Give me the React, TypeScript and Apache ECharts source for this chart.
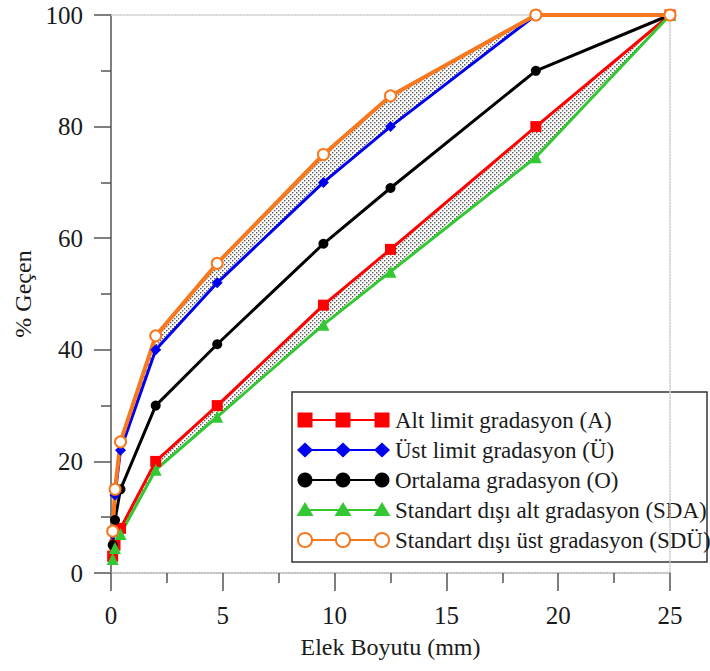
import React, { useEffect, useRef } from "react";
import * as echarts from "echarts";

const sieveSizes = [0.075, 0.18, 0.425, 2, 4.75, 9.5, 12.5, 19, 25];
const altLimit = [3, 5, 8, 20, 30, 48, 58, 80, 100];
const ustLimit = [7, 14, 22, 40, 52, 70, 80, 100, 100];
const ortalama = [5, 9.5, 15, 30, 41, 59, 69, 90, 100];
const sdAlt = [2.5, 4.5, 7, 18.5, 28, 44.5, 54, 74.5, 100];
const sdUst = [7.5, 15, 23.5, 42.5, 55.5, 75, 85.5, 100, 100];

const names = [
  "Alt limit gradasyon (A)",
  "Üst limit gradasyon (Ü)",
  "Ortalama gradasyon (O)",
  "Standart dışı alt gradasyon (SDA)",
  "Standart dışı üst gradasyon (SDÜ)",
];
const xTicks = [0, 5, 10, 15, 20, 25];
const yTicks = [0, 20, 40, 60, 80, 100];

const RED = "#ff0000";
const BLUE = "#0000ee";
const BLACK = "#000000";
const GREEN = "#33c833";
const ORANGE = "#f7781e";
const FONT = '"Liberation Serif", "Times New Roman", serif';
const TEXT = "#1a1a1a";

function makeDots(): any {
  const c = document.createElement("canvas");
  c.width = 4;
  c.height = 4;
  const ctx = c.getContext("2d")!;
  ctx.fillStyle = "#ffffff";
  ctx.fillRect(0, 0, 4, 4);
  ctx.fillStyle = "#5a5a5a";
  ctx.fillRect(0, 0, 1.4, 1.4);
  ctx.fillRect(2, 2, 1.4, 1.4);
  return { image: c, repeat: "repeat" };
}

function pairs(ys: number[]) {
  return sieveSizes.map((x, i) => [x, ys[i]]);
}

function band(upper: number[], lower: number[], fill: any) {
  return {
    type: "custom",
    coordinateSystem: "cartesian2d",
    silent: true,
    z: 1,
    data: [[0, 0]],
    encode: { x: 0, y: 1 },
    renderItem: (_p: any, api: any) => {
      const top = sieveSizes.map((x, i) => api.coord([x, upper[i]]));
      const bot = sieveSizes.map((x, i) => api.coord([x, lower[i]])).reverse();
      return {
        type: "polygon",
        shape: { points: top.concat(bot) },
        style: { fill, stroke: "none" },
      };
    },
  };
}

function legendGraphic() {
  const x0 = 292;
  const y0 = 392;
  const children: any[] = [
    {
      type: "rect",
      shape: { x: x0, y: y0, width: 415, height: 170 },
      style: { fill: "#ffffff", stroke: "#333", lineWidth: 1.5 },
    },
  ];
  const colors = [RED, BLUE, BLACK, GREEN, ORANGE];
  const xs = [305, 343, 382];
  colors.forEach((col, k) => {
    const cy = 420 + k * 30;
    children.push({
      type: "line",
      shape: { x1: 305, y1: cy, x2: 382, y2: cy },
      style: { stroke: col, lineWidth: 2 },
    });
    xs.forEach((cx) => {
      if (k === 0) {
        children.push({ type: "rect", shape: { x: cx - 7.5, y: cy - 7.5, width: 15, height: 15 }, style: { fill: col } });
      } else if (k === 1) {
        children.push({
          type: "polygon",
          shape: { points: [[cx, cy - 7.5], [cx + 8, cy], [cx, cy + 7.5], [cx - 8, cy]] },
          style: { fill: col },
        });
      } else if (k === 2) {
        children.push({ type: "circle", shape: { cx, cy, r: 7.5 }, style: { fill: col } });
      } else if (k === 3) {
        children.push({
          type: "polygon",
          shape: { points: [[cx, cy - 8], [cx + 8.5, cy + 6], [cx - 8.5, cy + 6]] },
          style: { fill: col },
        });
      } else {
        children.push({ type: "circle", shape: { cx, cy, r: 7 }, style: { fill: "#ffffff", stroke: col, lineWidth: 2 } });
      }
    });
    children.push({
      type: "text",
      x: 395,
      y: cy,
      style: { text: names[k], font: `23px ${FONT}`, fill: TEXT, verticalAlign: "middle", align: "left" },
    });
  });
  return [{ type: "group", z: 100, children }];
}

export default function App() {
  const ref = useRef<HTMLDivElement>(null);
  useEffect(() => {
    document.body.style.margin = "0";
    const chart = echarts.init(ref.current!, null, { renderer: "svg" });
    const dots = makeDots();
    const axisLabel = { fontFamily: FONT, fontSize: 25, color: TEXT };
    const lineSeries = (name: string, ys: number[], color: string, symbol: string, size: number, width: number, extra: any = {}) => ({
      type: "line",
      name,
      data: pairs(ys),
      symbol,
      symbolSize: size,
      z: 3,
      lineStyle: { color, width },
      itemStyle: { color },
      ...extra,
    });
    chart.setOption({
      animation: false,
      backgroundColor: "#ffffff",
      grid: { left: 111, right: 40, top: 15, bottom: 98 },
      xAxis: [
        {
          type: "value",
          min: 0,
          max: 25,
          interval: 5,
          position: "bottom",
          name: "Elek Boyutu (mm)",
          nameLocation: "middle",
          nameGap: 62,
          nameTextStyle: { fontFamily: FONT, fontSize: 24, color: TEXT },
          axisLine: { onZero: false, lineStyle: { color: "#aaa", width: 1.5, type: "dotted" } },
          axisTick: { show: true, length: 18, lineStyle: { color: "#555", width: 1.5 } },
          minorTick: { show: true, splitNumber: 2, length: 10, lineStyle: { color: "#555", width: 1.5 } },
          axisLabel: { ...axisLabel, margin: 30, customValues: xTicks },
          splitLine: { show: false },
        },
        {
          type: "value",
          min: 0,
          max: 25,
          position: "top",
          axisLine: { onZero: false, lineStyle: { color: "#ccc", width: 1.5, type: "dotted" } },
          axisTick: { show: false },
          axisLabel: { show: false },
          splitLine: { show: false },
        },
      ],
      yAxis: [
        {
          type: "value",
          min: 0,
          max: 100,
          interval: 20,
          position: "left",
          name: "% Geçen",
          nameLocation: "middle",
          nameGap: 70,
          nameTextStyle: { fontFamily: FONT, fontSize: 24, color: TEXT },
          axisLine: { show: true, onZero: false, lineStyle: { color: "#555", width: 1.5 } },
          axisTick: { show: true, length: 17, lineStyle: { color: "#555", width: 1.5 } },
          minorTick: { show: true, splitNumber: 2, length: 10, lineStyle: { color: "#555", width: 1.5 } },
          axisLabel: { ...axisLabel, margin: 28, customValues: yTicks },
          splitLine: { show: false },
        },
        {
          type: "value",
          min: 0,
          max: 100,
          position: "right",
          axisLine: { show: true, onZero: false, lineStyle: { color: "#ccc", width: 1.5, type: "dotted" } },
          axisTick: { show: false },
          axisLabel: { show: false },
          splitLine: { show: false },
        },
      ],
      graphic: legendGraphic(),
      series: [
        band(sdUst, ustLimit, dots),
        band(altLimit, sdAlt, dots),
        lineSeries(names[0], altLimit, RED, "rect", 11, 3),
        lineSeries(names[1], ustLimit, BLUE, "diamond", 11, 3),
        lineSeries(names[2], ortalama, BLACK, "circle", 10, 3),
        lineSeries(names[3], sdAlt, GREEN, "triangle", 12, 3),
        lineSeries(names[4], sdUst, ORANGE, "emptyCircle", 11, 4, {
          itemStyle: { color: ORANGE, borderWidth: 1.5, borderColor: ORANGE },
        }),
      ],
    });
    return () => chart.dispose();
  }, []);
  return <div ref={ref} style={{ width: 710, height: 671 }} />;
}
